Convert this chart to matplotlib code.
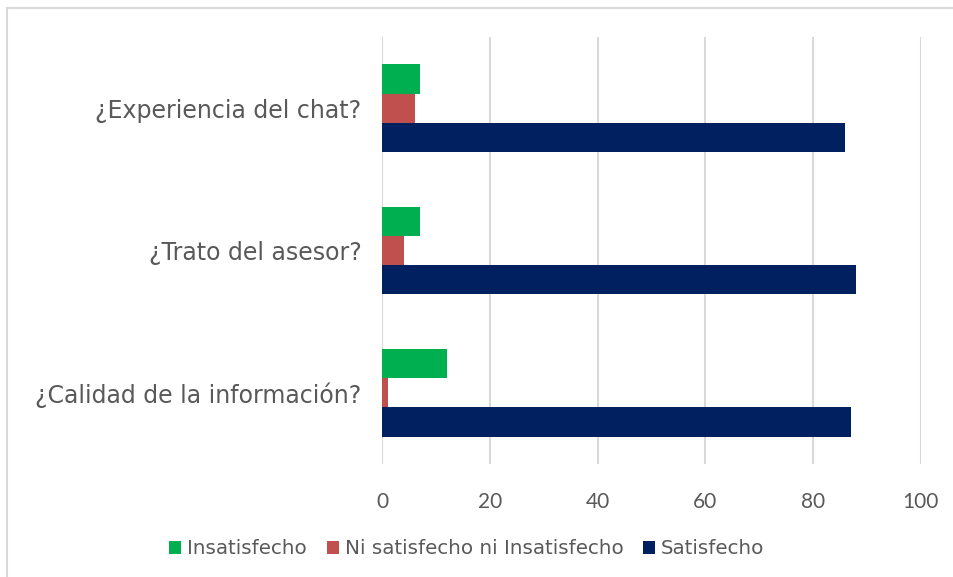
import matplotlib.pyplot as plt
import numpy as np
from matplotlib.lines import Line2D

categories = ["¿Calidad de la información?", "¿Trato del asesor?", "¿Experiencia del chat?"]
series_names = ["Insatisfecho", "Ni satisfecho ni Insatisfecho", "Satisfecho"]
insatisfecho = [12, 7, 7]
ni_ni = [1, 4, 6]
satisfecho = [87, 88, 86]
x_ticks = [0, 20, 40, 60, 80, 100]

colors = ["#00B050", "#C0504D", "#002060"]
text_color = "#595959"

plt.rcParams["font.family"] = ["Lato", "DejaVu Sans"]

fig = plt.figure(figsize=(9.54, 5.77), dpi=100)
ax = fig.add_axes([382.3 / 954, 1 - 464 / 577, (920.8 - 382.3) / 954, (464 - 37) / 577])

y = np.arange(len(categories))
h = 0.205
values = [insatisfecho, ni_ni, satisfecho]
for i, (name, vals, col) in enumerate(zip(series_names, values, colors)):
    ax.barh(y + (1 - i) * h, vals, height=h, color=col, label=name, zorder=3)

ax.set_xlim(0, 100)
ax.set_ylim(-0.5, len(categories) - 0.5)
ax.set_xticks(x_ticks)
ax.set_xticklabels([str(t) for t in x_ticks], family="Lato", fontsize=15)
ax.set_yticks(y)
ax.set_yticklabels(categories, family="DejaVu Sans", fontsize=17)
ax.grid(axis="x", color="#D9D9D9", linewidth=1.5, zorder=0)
for s in ["top", "right", "bottom", "left"]:
    ax.spines[s].set_visible(False)
ax.tick_params(axis="both", length=0, colors=text_color)
ax.tick_params(axis="x", pad=20)
ax.tick_params(axis="y", pad=15)

ax.legend(loc="center", bbox_to_anchor=(467 / 954, 1 - 549 / 577),
          bbox_transform=fig.transFigure, ncol=3, frameon=False,
          prop={"family": "DejaVu Sans", "size": 14.3}, labelcolor=text_color,
          handlelength=0.6, handleheight=0.6, handletextpad=0.3, columnspacing=1.0)

# chart area border (top and left edges visible)
fig.add_artist(Line2D([7 / 954, 7 / 954], [0, 1 - 8 / 577], transform=fig.transFigure,
                      color="#D9D9D9", linewidth=1.5))
fig.add_artist(Line2D([7 / 954, 1], [1 - 8 / 577, 1 - 8 / 577], transform=fig.transFigure,
                      color="#D9D9D9", linewidth=1.5))

fig.savefig("out.png", dpi=100)
plt.close(fig)
